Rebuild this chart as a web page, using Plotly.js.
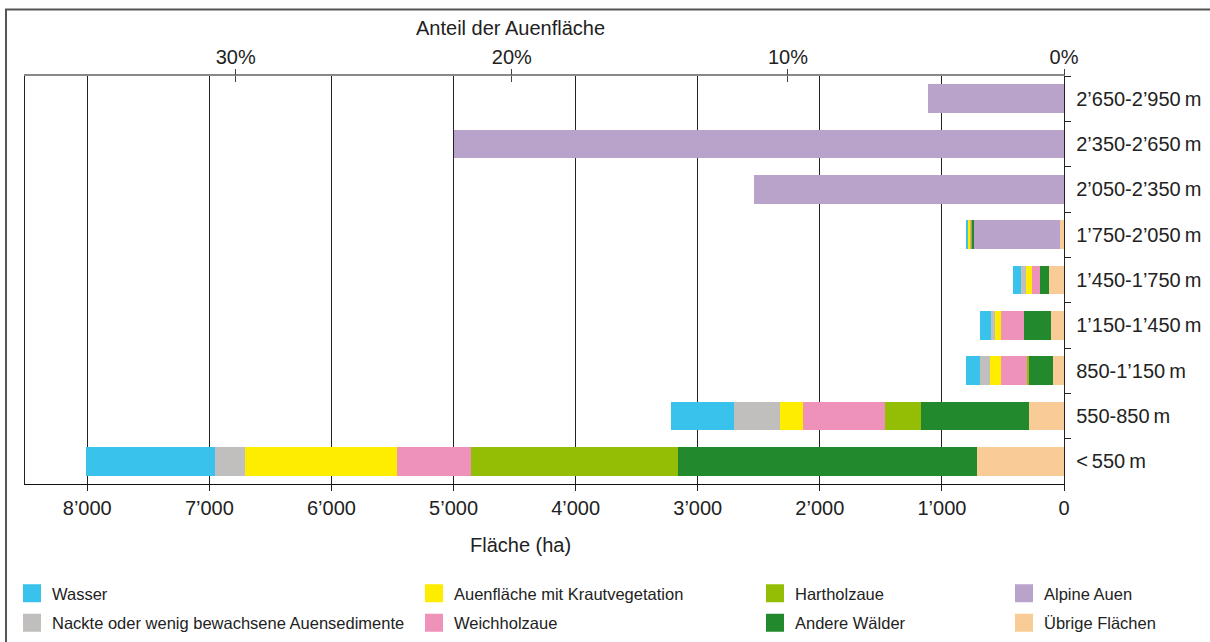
<!DOCTYPE html>
<html><head><meta charset="utf-8">
<script src="https://cdn.plot.ly/plotly-3.0.1.min.js"></script>
<style>html,body{margin:0;padding:0;background:#fff;} #chart{width:1210px;height:642px;}</style>
</head><body><div id="chart"></div>
<script>
// ---- data ----
const categories = ["2\u2019650-2\u2019950\u2009m","2\u2019350-2\u2019650\u2009m","2\u2019050-2\u2019350\u2009m","1\u2019750-2\u2019050\u2009m","1\u2019450-1\u2019750\u2009m","1\u2019150-1\u2019450\u2009m","850-1\u2019150\u2009m","550-850\u2009m","<\u2009550\u2009m"];
const wasser   = [0,0,0,16,66,90,115,516,1055];
const nackte   = [0,0,0,6,41,33,82,374,248];
const kraut    = [0,0,0,14,49,49,90,191,1247];
const weich    = [0,0,0,10,66,188,213,672,606];
const hart     = [0,0,0,4,0,0,16,295,1694];
const andere   = [0,0,0,16,74,221,197,885,2449];
const alpine   = [1110,5000,2540,707,0,0,0,0,0];
const uebrige  = [0,0,0,33,123,106,90,287,713];
const seriesNames = ["Wasser","Nackte oder wenig bewachsene Auensedimente","Auenfläche mit Krautvegetation","Weichholzaue","Hartholzaue","Andere Wälder","Alpine Auen","Übrige Flächen"];
const totalArea = 22614; // ha, 100 % der Auenfläche
const xTickVals = [0,1000,2000,3000,4000,5000,6000,7000,8000];
const xTickText = ["0","1\u2019000","2\u2019000","3\u2019000","4\u2019000","5\u2019000","6\u2019000","7\u2019000","8\u2019000"];
const pctTickVals = [0,10,20,30];
const pctTickText = ["0%","10%","20%","30%"];

// ---- layout helpers ----
const W=1210,H=642,L=25,R=146,T=76,B=158;
const pw=W-L-R, ph=H-T-B;
const px2x = p => (p-L)/pw;
const py2y = p => (H-B-p)/ph;
const xMax = 8510;
const FONT = "Liberation Sans, Arial, sans-serif";

const colors = {
  wasser:"#38C2EC", nackte:"#C0BFBD", kraut:"#FFED00", weich:"#EF92BA",
  hart:"#94BE06", andere:"#22892C", alpine:"#B9A3CA", uebrige:"#F9CB97"
};
// stacking from 0 (right) outward
const stack = [
  {v:uebrige, n:seriesNames[7], c:colors.uebrige, lg:"legend4", rank:8},
  {v:alpine,  n:seriesNames[6], c:colors.alpine,  lg:"legend4", rank:7},
  {v:andere,  n:seriesNames[5], c:colors.andere,  lg:"legend3", rank:6},
  {v:hart,    n:seriesNames[4], c:colors.hart,    lg:"legend3", rank:5},
  {v:weich,   n:seriesNames[3], c:colors.weich,   lg:"legend2", rank:4},
  {v:kraut,   n:seriesNames[2], c:colors.kraut,   lg:"legend2", rank:3},
  {v:nackte,  n:seriesNames[1], c:colors.nackte,  lg:"legend", rank:2},
  {v:wasser,  n:seriesNames[0], c:colors.wasser,  lg:"legend", rank:1}
];
const data = stack.map((s,i) => ({
  type:"bar", orientation:"h", x:s.v, y:categories, name:s.n,
  marker:{color:s.c, line:{width:0}}, showlegend:false, legendgroup:"g"+i,
  hoverinfo:"x+name"
}));
// legend entries with larger square swatches (same series, same colours)
stack.forEach((s,i) => data.push({
  type:"scatter", mode:"markers", x:[null], y:[null], name:s.n, legend:s.lg, legendrank:s.rank,
  legendgroup:"g"+i, showlegend:true, hoverinfo:"skip",
  marker:{symbol:"square", size:16, color:s.c, line:{width:2, color:s.c}}
}));
// empty traces so that the top percentage axes get drawn
data.push({type:"scatter", mode:"markers", x:[], y:[], xaxis:"x2", yaxis:"y", showlegend:false, hoverinfo:"skip"});
data.push({type:"scatter", mode:"markers", x:[], y:[], xaxis:"x3", yaxis:"y", showlegend:false, hoverinfo:"skip"});

function legendAt(px, py){
  return {x:px2x(px), y:py2y(py), xanchor:"left", yanchor:"top", orientation:"v",
    bgcolor:"rgba(0,0,0,0)", borderwidth:0, traceorder:"grouped", tracegroupgap:5,
    itemsizing:"trace",
    font:{family:FONT, size:16.5, color:"#222"}};
}

const layout = {
  width:W, height:H, margin:{l:L, r:R, t:T, b:B, pad:0, autoexpand:false},
  paper_bgcolor:"#fff", plot_bgcolor:"#fff",
  barmode:"stack", bargap:0.37,
  font:{family:FONT, size:20, color:"#222"},
  xaxis:{range:[xMax,0], tickvals:xTickVals, ticktext:xTickText, ticks:"outside", ticklen:6,
    tickcolor:"#222", showgrid:true, gridcolor:"#222", gridwidth:1, zeroline:false,
    showline:true, linecolor:"#111", linewidth:1.2, tickfont:{family:FONT,size:20,color:"#222"},
    ticklabelstandoff:0, fixedrange:true},
  xaxis2:{overlaying:"x", side:"top", anchor:"y", range:[xMax/totalArea*100,0],
    tickvals:pctTickVals, ticktext:pctTickText, ticks:"outside", ticklen:2, tickcolor:"#444",
    showgrid:false, zeroline:false, showline:true, linecolor:"#888", linewidth:2,
    tickfont:{family:FONT,size:20,color:"#222"}},
  xaxis3:{overlaying:"x", side:"top", anchor:"y", range:[xMax/totalArea*100,0],
    tickvals:pctTickVals, ticks:"inside", ticklen:6, tickcolor:"#444", showticklabels:false,
    showgrid:false, zeroline:false, showline:false},
  xaxis4:{overlaying:"x", side:"top", anchor:"y", range:[xMax/totalArea*100,0],
    tickvals:pctTickVals, ticks:"outside", ticklen:6, tickcolor:"#444", showticklabels:false,
    showgrid:false, zeroline:false, showline:false},
  yaxis:{type:"category", categoryorder:"array", categoryarray:categories, autorange:"reversed",
    side:"right", ticks:"outside", tickson:"boundaries", ticklen:6, tickcolor:"#222",
    showgrid:false, zeroline:false, showline:true, linecolor:"#222", linewidth:1.2, mirror:true,
    tickfont:{family:FONT,size:20,color:"#222"}, ticklabelstandoff:7},
  legend: legendAt(12, 576),
  legend2: legendAt(414, 576),
  legend3: legendAt(755, 576),
  legend4: legendAt(1004, 576),
  annotations:[
    {text:"Anteil der Auenfläche", xref:"paper", yref:"paper", x:px2x(510), y:py2y(28),
     xanchor:"center", yanchor:"middle", showarrow:false, font:{family:FONT,size:20,color:"#222"}},
    {text:"Fläche (ha)", xref:"paper", yref:"paper", x:px2x(520), y:py2y(545),
     xanchor:"center", yanchor:"middle", showarrow:false, font:{family:FONT,size:20,color:"#222"}}
  ],
  shapes:[
    {type:"rect", xref:"paper", yref:"paper", x0:px2x(6), x1:px2x(1220), y0:py2y(650), y1:py2y(9.5),
     line:{color:"#555", width:2}, fillcolor:"rgba(0,0,0,0)", layer:"below"}
  ]
};
data.push({type:"scatter", mode:"markers", x:[], y:[], xaxis:"x4", yaxis:"y", showlegend:false, hoverinfo:"skip"});
Plotly.newPlot("chart", data, layout, {displayModeBar:false, staticPlot:true});
</script>
</body></html>
